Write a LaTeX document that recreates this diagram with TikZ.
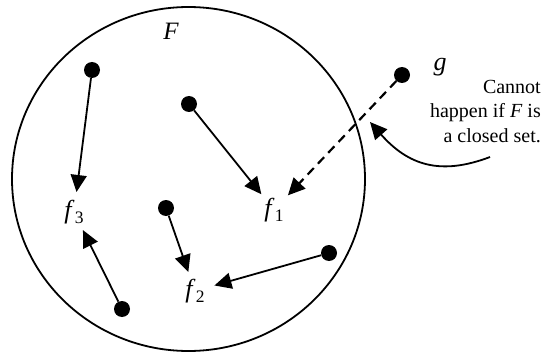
\documentclass[tikz,border=0pt]{standalone}
\usepackage{fontspec}
\setmainfont{Liberation Serif}
\usetikzlibrary{arrows.meta}
\newcommand{\flab}[1]{\fontsize{26}{26}\selectfont\textit{f}\kern0.5pt\raisebox{-5pt}{\fontsize{17.5}{17.5}\selectfont #1}}
\tikzset{
  dotnode/.style={circle, fill=black, minimum size=16pt, inner sep=0pt},
  labnode/.style={circle, minimum size=40pt, inner sep=0pt},
  arr/.style={line width=1.8pt, -{Triangle[length=17pt,width=16pt]}},
  dasharr/.style={line width=2.2pt, dash pattern=on 9pt off 6pt, -{Triangle[length=17pt,width=16pt]}},
}
\begin{document}
\begin{tikzpicture}[x=1pt,y=-1pt]
\useasboundingbox (0,0) rectangle (544,353);
% the set F
\draw[line width=1.8pt] (188.5,179) ellipse [x radius=176.5, y radius=172];
\node (Flab) at (171,31) {\fontsize{25}{25}\selectfont\textit{F}};
% dots
\node[dotnode] (d3a) at (92,70) {};
\node[dotnode] (d1a) at (189,104) {};
\node[dotnode] (d2a) at (166,208) {};
\node[dotnode] (d2b) at (329,253) {};
\node[dotnode] (d3b) at (122,309) {};
\node[dotnode] (g) at (402,75) {};
% labels
\node[labnode] (f1) at (274,210) {\flab{1}};
\node[labnode] (f2) at (195,291) {\flab{2}};
\node[labnode] (f3) at (74,212) {\flab{3}};
\node[anchor=base] (glab) at (440,71) {\fontsize{26}{26}\selectfont\textit{g}};
% arrows
\draw[arr] (d1a) -- (f1);
\draw[arr] (d3a) -- (f3);
\draw[arr] (d3b) -- (f3);
\draw[arr] (d2a) -- (f2);
\draw[arr] (d2b) -- (f2);
\draw[dasharr] (g) -- (f1);
% note
\node[anchor=north east, inner sep=0pt, align=right, font=\fontsize{20}{24.5}\selectfont] (note) at (541,80)
  {Cannot\\happen if \textit{F} is\\a closed set.};
\coordinate (cs) at (490,157);
\coordinate (ct) at (370,122);
\draw[arr] (cs) .. controls (440,176) and (408,165) .. (ct);
\end{tikzpicture}
\end{document}
